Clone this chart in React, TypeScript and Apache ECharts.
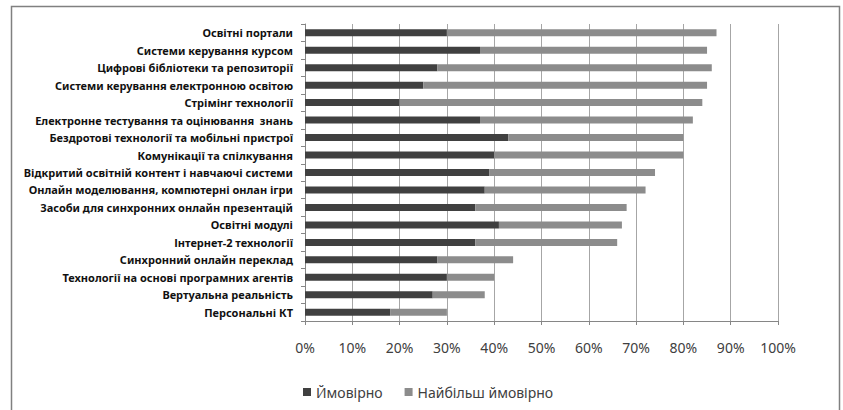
import React, { useEffect, useRef } from "react";
import * as echarts from "echarts";

const categories = [
  "Освітні портали",
  "Системи керування курсом",
  "Цифрові бібліотеки та репозиторії",
  "Системи керування електронною освітою",
  "Стрімінг технології",
  "Електронне тестування та оцінювання  знань",
  "Бездротові технології та мобільні пристрої",
  "Комунікації та спілкування",
  "Відкритий освітній контент і навчаючі системи",
  "Онлайн моделювання, компютерні онлан ігри",
  "Засоби для синхронних онлайн презентацій",
  "Освітні модулі",
  "Інтернет-2 технології",
  "Синхронний онлайн переклад",
  "Технології на основі програмних агентів",
  "Вертуальна реальність",
  "Персональні КТ",
];

const likely = [30, 37, 28, 25, 20, 37, 43, 40, 39, 38, 36, 41, 36, 28, 30, 27, 18];
const mostLikely = [57, 48, 58, 60, 64, 45, 37, 40, 35, 34, 32, 26, 30, 16, 10, 11, 12];
const seriesNames = ["Ймовірно", "Найбільш ймовірно"];

export default function App() {
  const ref = useRef<HTMLDivElement>(null);
  useEffect(() => {
    document.body.style.margin = "0";
    const chart = echarts.init(ref.current!, null, { renderer: "svg" });
    const font = "'Noto Sans', sans-serif";
    chart.setOption({
      animation: false,
      backgroundColor: "#ffffff",
      graphic: [
        {
          type: "rect",
          shape: { x: 11.5, y: 6.5, width: 828, height: 430 },
          style: { fill: "none", stroke: "#808080", lineWidth: 1.5 },
        },
      ],
      grid: { left: 305, right: 65, top: 24, bottom: 89 },
      legend: {
        left: 298,
        top: 380,
        itemWidth: 8,
        itemHeight: 8,
        itemGap: 22,
        icon: "rect",
        textStyle: { fontSize: 14, color: "#404040", fontFamily: font },
        data: seriesNames,
      },
      xAxis: {
        type: "value",
        min: 0,
        max: 100,
        interval: 10,
        axisLine: { show: true, lineStyle: { color: "#868686" } },
        axisTick: { show: true, length: 4, lineStyle: { color: "#868686" } },
        splitLine: { show: true, lineStyle: { color: "#a6a6a6" } },
        axisLabel: {
          formatter: "{value}%",
          fontSize: 14,
          color: "#404040",
          margin: 19,
          fontFamily: font,
        },
      },
      yAxis: {
        type: "category",
        inverse: true,
        data: categories,
        axisLine: { show: true, lineStyle: { color: "#868686" } },
        axisTick: { show: true, length: 4, lineStyle: { color: "#868686" } },
        axisLabel: {
          fontSize: 11,
          fontWeight: "bold",
          color: "#111111",
          margin: 12,
          fontFamily: font,
        },
      },
      series: [
        {
          name: seriesNames[0],
          type: "bar",
          stack: "a",
          barWidth: 7,
          data: likely,
          itemStyle: { color: "#404040" },
        },
        {
          name: seriesNames[1],
          type: "bar",
          stack: "a",
          barWidth: 7,
          data: mostLikely,
          itemStyle: { color: "#8c8c8c" },
        },
      ],
    });
    return () => chart.dispose();
  }, []);
  return <div ref={ref} style={{ width: 843, height: 410 }} />;
}
